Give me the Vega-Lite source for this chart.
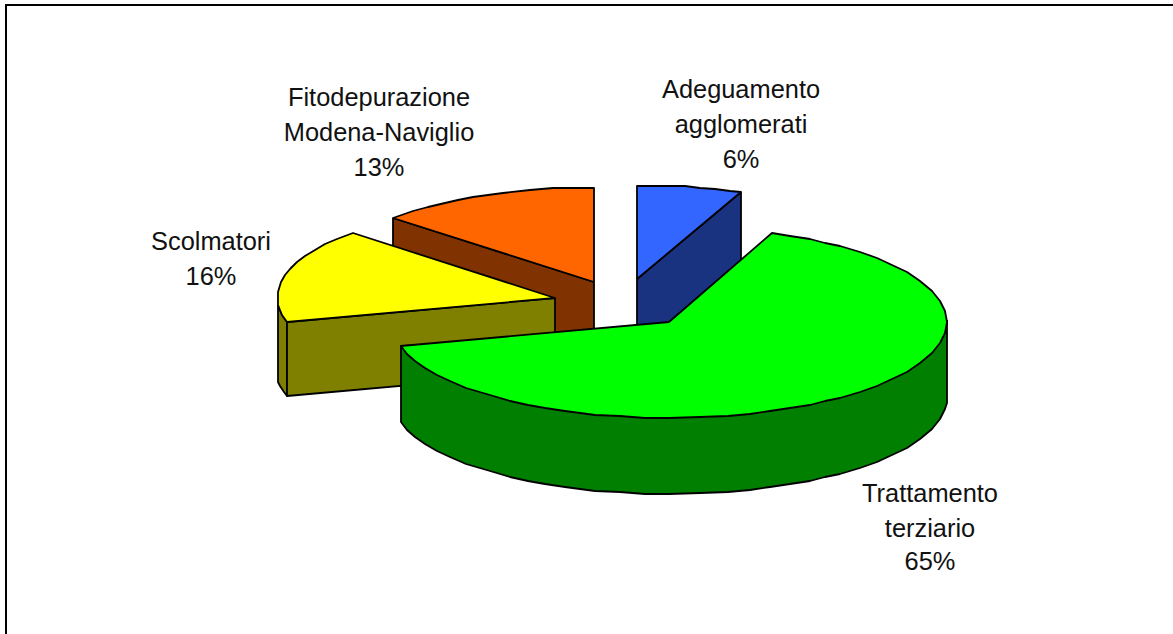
{"$schema":"https://vega.github.io/schema/vega-lite/v6.json","width":1173,"height":634,"padding":0,"autosize":{"type":"none"},"background":"white","view":{"stroke":null},"datasets":{"frame":[{"x":6,"y":634,"s":0},{"x":6,"y":5,"s":1},{"x":1173,"y":5,"s":2}],"labels":[{"t":"Fitodepurazione","x":379,"y":98},{"t":"Modena-Naviglio","x":379,"y":133},{"t":"13%","x":379,"y":168},{"t":"Adeguamento","x":741,"y":90},{"t":"agglomerati","x":741,"y":125},{"t":"6%","x":741,"y":160},{"t":"Scolmatori","x":211,"y":242},{"t":"16%","x":211,"y":277},{"t":"Trattamento","x":930,"y":494},{"t":"terziario","x":930,"y":529},{"t":"65%","x":930,"y":562}],"parts":[
{"p":"a","s":0,"x":393,"y":218},{"p":"a","s":1,"x":594,"y":282},{"p":"a","s":2,"x":594,"y":356},{"p":"a","s":3,"x":393,"y":292},{"p":"a","s":4,"x":393,"y":218},
{"p":"b","s":0,"x":594,"y":282},{"p":"b","s":1,"x":594,"y":188},{"p":"b","s":2,"x":575,"y":188},{"p":"b","s":3,"x":553,"y":188},{"p":"b","s":4,"x":530,"y":190},{"p":"b","s":5,"x":503,"y":193},{"p":"b","s":6,"x":488,"y":195},{"p":"b","s":7,"x":473,"y":197},{"p":"b","s":8,"x":458,"y":200},{"p":"b","s":9,"x":445,"y":203},{"p":"b","s":10,"x":428,"y":207},{"p":"b","s":11,"x":413,"y":211},{"p":"b","s":12,"x":393,"y":218},{"p":"b","s":13,"x":594,"y":282},
{"p":"c","s":0,"x":278,"y":305},{"p":"c","s":1,"x":282,"y":315},{"p":"c","s":2,"x":287,"y":322},{"p":"c","s":3,"x":287,"y":396},{"p":"c","s":4,"x":284,"y":392},{"p":"c","s":5,"x":280,"y":386},{"p":"c","s":6,"x":278,"y":382},{"p":"c","s":7,"x":278,"y":305},
{"p":"d","s":0,"x":287,"y":322},{"p":"d","s":1,"x":555,"y":298},{"p":"d","s":2,"x":555,"y":372},{"p":"d","s":3,"x":287,"y":396},{"p":"d","s":4,"x":287,"y":322},
{"p":"e","s":0,"x":555,"y":298},{"p":"e","s":1,"x":353,"y":233},{"p":"e","s":2,"x":337,"y":239},{"p":"e","s":3,"x":325,"y":244},{"p":"e","s":4,"x":315,"y":250},{"p":"e","s":5,"x":305,"y":256},{"p":"e","s":6,"x":297,"y":262},{"p":"e","s":7,"x":290,"y":269},{"p":"e","s":8,"x":285,"y":275},{"p":"e","s":9,"x":281,"y":282},{"p":"e","s":10,"x":278,"y":292},{"p":"e","s":11,"x":278,"y":305},{"p":"e","s":12,"x":282,"y":315},{"p":"e","s":13,"x":287,"y":322},{"p":"e","s":14,"x":555,"y":298},
{"p":"f","s":0,"x":741,"y":192},{"p":"f","s":1,"x":741,"y":266},{"p":"f","s":2,"x":637,"y":354},{"p":"f","s":3,"x":637,"y":279},{"p":"f","s":4,"x":741,"y":192},
{"p":"g","s":0,"x":637,"y":279},{"p":"g","s":1,"x":637,"y":186},{"p":"g","s":2,"x":660,"y":186},{"p":"g","s":3,"x":685,"y":186},{"p":"g","s":4,"x":700,"y":188},{"p":"g","s":5,"x":715,"y":189},{"p":"g","s":6,"x":730,"y":191},{"p":"g","s":7,"x":741,"y":192},{"p":"g","s":8,"x":637,"y":279},
{"p":"h","s":0,"x":947,"y":320},{"p":"h","s":1,"x":947,"y":403},{"p":"h","s":2,"x":945,"y":409},{"p":"h","s":3,"x":940,"y":419},{"p":"h","s":4,"x":932,"y":429},{"p":"h","s":5,"x":920,"y":439},{"p":"h","s":6,"x":907,"y":448},{"p":"h","s":7,"x":892,"y":455},{"p":"h","s":8,"x":877,"y":462},{"p":"h","s":9,"x":860,"y":468},{"p":"h","s":10,"x":840,"y":474},{"p":"h","s":11,"x":825,"y":477},{"p":"h","s":12,"x":810,"y":481},{"p":"h","s":13,"x":790,"y":484},{"p":"h","s":14,"x":770,"y":487},{"p":"h","s":15,"x":750,"y":490},{"p":"h","s":16,"x":728,"y":492},{"p":"h","s":17,"x":700,"y":493},{"p":"h","s":18,"x":669,"y":494},{"p":"h","s":19,"x":645,"y":494},{"p":"h","s":20,"x":620,"y":492},{"p":"h","s":21,"x":595,"y":491},{"p":"h","s":22,"x":565,"y":487},{"p":"h","s":23,"x":545,"y":484},{"p":"h","s":24,"x":528,"y":481},{"p":"h","s":25,"x":510,"y":477},{"p":"h","s":26,"x":490,"y":471},{"p":"h","s":27,"x":466,"y":464},{"p":"h","s":28,"x":450,"y":457},{"p":"h","s":29,"x":437,"y":451},{"p":"h","s":30,"x":425,"y":444},{"p":"h","s":31,"x":415,"y":437},{"p":"h","s":32,"x":407,"y":430},{"p":"h","s":33,"x":401,"y":422},{"p":"h","s":34,"x":401,"y":346},{"p":"h","s":35,"x":947,"y":320},
{"p":"i","s":0,"x":669,"y":322},{"p":"i","s":1,"x":772,"y":233},{"p":"i","s":2,"x":790,"y":236},{"p":"i","s":3,"x":810,"y":239},{"p":"i","s":4,"x":825,"y":243},{"p":"i","s":5,"x":840,"y":246},{"p":"i","s":6,"x":860,"y":252},{"p":"i","s":7,"x":877,"y":258},{"p":"i","s":8,"x":892,"y":265},{"p":"i","s":9,"x":907,"y":272},{"p":"i","s":10,"x":920,"y":281},{"p":"i","s":11,"x":932,"y":291},{"p":"i","s":12,"x":940,"y":301},{"p":"i","s":13,"x":945,"y":311},{"p":"i","s":14,"x":947,"y":322},{"p":"i","s":15,"x":945,"y":333},{"p":"i","s":16,"x":940,"y":343},{"p":"i","s":17,"x":932,"y":353},{"p":"i","s":18,"x":920,"y":363},{"p":"i","s":19,"x":907,"y":372},{"p":"i","s":20,"x":892,"y":379},{"p":"i","s":21,"x":877,"y":386},{"p":"i","s":22,"x":860,"y":392},{"p":"i","s":23,"x":840,"y":398},{"p":"i","s":24,"x":825,"y":401},{"p":"i","s":25,"x":810,"y":405},{"p":"i","s":26,"x":790,"y":408},{"p":"i","s":27,"x":770,"y":411},{"p":"i","s":28,"x":750,"y":414},{"p":"i","s":29,"x":728,"y":416},{"p":"i","s":30,"x":700,"y":417},{"p":"i","s":31,"x":669,"y":418},{"p":"i","s":32,"x":645,"y":418},{"p":"i","s":33,"x":620,"y":416},{"p":"i","s":34,"x":595,"y":415},{"p":"i","s":35,"x":565,"y":411},{"p":"i","s":36,"x":545,"y":408},{"p":"i","s":37,"x":528,"y":405},{"p":"i","s":38,"x":510,"y":401},{"p":"i","s":39,"x":490,"y":395},{"p":"i","s":40,"x":466,"y":388},{"p":"i","s":41,"x":450,"y":381},{"p":"i","s":42,"x":437,"y":375},{"p":"i","s":43,"x":425,"y":368},{"p":"i","s":44,"x":415,"y":361},{"p":"i","s":45,"x":407,"y":354},{"p":"i","s":46,"x":401,"y":346},{"p":"i","s":47,"x":669,"y":322}
]},"encoding":{"x":{"field":"x","type":"quantitative","scale":{"domain":[0,1173],"nice":false,"zero":false},"axis":null},"y":{"field":"y","type":"quantitative","scale":{"domain":[634,0],"nice":false,"zero":false},"axis":null}},"layer":[
{"data":{"name":"frame"},"mark":{"type":"line","stroke":"black","strokeWidth":2,"interpolate":"linear"},"encoding":{"order":{"field":"s","type":"quantitative"}}},
{"data":{"name":"parts"},"mark":{"type":"line","stroke":"black","strokeWidth":1.8,"strokeJoin":"round","interpolate":"linear"},"encoding":{"detail":{"field":"p","type":"nominal"},"order":{"field":"s","type":"quantitative"},"fill":{"field":"p","type":"nominal","legend":null,"scale":{"domain":["a","b","c","d","e","f","g","h","i"],"range":["#803300","#FF6600","#808000","#808000","#FFFF00","#1A3380","#3366FF","#007F00","#00FF00"]}}}},
{"data":{"name":"labels"},"mark":{"type":"text","font":"Liberation Sans","fontSize":25.4,"color":"#111111","align":"center","baseline":"middle"},"encoding":{"text":{"field":"t","type":"nominal"}}}
]}
